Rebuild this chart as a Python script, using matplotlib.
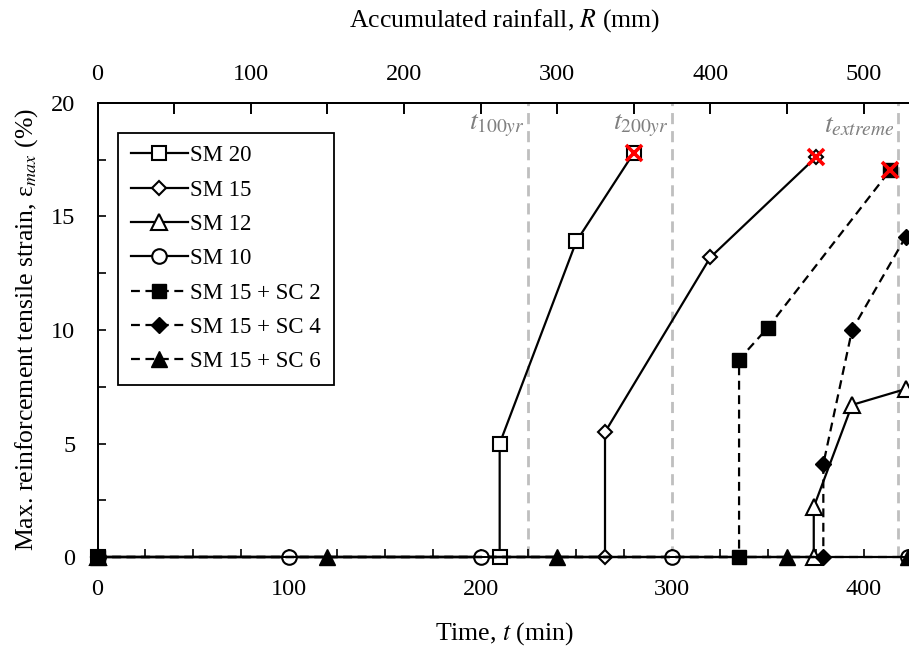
import matplotlib
matplotlib.use("Agg")
import matplotlib.pyplot as plt
from matplotlib.ticker import MultipleLocator

plt.rcParams['font.family'] = ['Liberation Serif', 'DejaVu Serif']
plt.rcParams['mathtext.fontset'] = 'stix'

# ---- data (time in min, strain in %) ----
sm20_t = [0, 210, 210, 250, 280]
sm20_e = [0, 0, 5.0, 13.9, 17.8]

sm15_t = [0, 265, 265, 320, 375]
sm15_e = [0, 0, 5.5, 13.2, 17.6]

sm12_t = [0, 374, 374, 394, 422]
sm12_e = [0, 0, 2.2, 6.7, 7.4]

sm10_t = [0, 100, 200, 300, 423]
sm10_e = [0, 0, 0, 0, 0]

sc2_t = [0, 335, 335, 350, 414]
sc2_e = [0, 0, 8.7, 10.1, 17.05]

sc4_t = [0, 379, 379, 394, 422]
sc4_e = [0, 0, 4.1, 10.0, 14.1]

sc6_t = [0, 120, 240, 360, 423]
sc6_e = [0, 0, 0, 0, 0]

# failure points (red crosses)
fail_t = [sm20_t[-1], sm15_t[-1], sc2_t[-1]]
fail_e = [sm20_e[-1], sm15_e[-1], sc2_e[-1]]

# return-period times
event_t = [225, 300, 418]
event_lbl = [r'$t_{100yr}$', r'$t_{200yr}$', r'$t_{extreme}$']

rain_rate = 1.25   # mm per min
t_max = 425.3

fig = plt.figure(figsize=(9.09, 6.48), dpi=100)
ax = fig.add_axes([97.5 / 909, 1 - 557 / 648, 814.5 / 909, 454 / 648])

dash = (0, (4, 2.5))
lw = 1.6

ax.plot(sm20_t, sm20_e, '-', color='black', lw=lw, marker='s', ms=10,
        mfc='white', mec='black', mew=1.5, label='SM 20', clip_on=False)
ax.plot(sm15_t, sm15_e, '-', color='black', lw=lw, marker='D', ms=7.5,
        mfc='white', mec='black', mew=1.5, label='SM 15', clip_on=False)
ax.plot(sm12_t, sm12_e, '-', color='black', lw=lw, marker='^', ms=11,
        mfc='white', mec='black', mew=1.5, label='SM 12', clip_on=False)
ax.plot(sm10_t, sm10_e, '-', color='black', lw=lw, marker='o', ms=10.5,
        mfc='white', mec='black', mew=1.5, label='SM 10', clip_on=False)
ax.plot(sc2_t, sc2_e, linestyle=dash, color='black', lw=lw, marker='s', ms=10,
        mfc='black', mec='black', label='SM 15 + SC 2', clip_on=False)
ax.plot(sc4_t, sc4_e, linestyle=dash, color='black', lw=lw, marker='D', ms=8,
        mfc='black', mec='black', label='SM 15 + SC 4', clip_on=False)
ax.plot(sc6_t, sc6_e, linestyle=dash, color='black', lw=lw, marker='^', ms=12,
        mfc='black', mec='black', label='SM 15 + SC 6', clip_on=False)

ax.plot(fail_t, fail_e, linestyle='none', marker='x', ms=12, mew=2.6,
        color='red', zorder=5)

for t, lbl in zip(event_t, event_lbl):
    ax.axvline(t, color='#bfbfbf', lw=2.0, linestyle=(0, (4, 2.5)), zorder=1)
    ax.text(t - 2, 19.0, lbl, ha='right', va='center', fontsize=20,
            color='#7f7f7f')

ax.set_xlim(0, t_max)
ax.set_ylim(0, 20)
ax.xaxis.set_major_locator(MultipleLocator(100))
ax.xaxis.set_minor_locator(MultipleLocator(25))
ax.yaxis.set_major_locator(MultipleLocator(5))
ax.yaxis.set_minor_locator(MultipleLocator(2.5))
ax.tick_params(which='both', direction='in', length=6, width=1.2,
               labelsize=17.5, top=False, right=False)
ax.tick_params(axis='x', which='both', pad=16)
ax.tick_params(axis='y', which='both', pad=16)
for s in ax.spines.values():
    s.set_linewidth(1.4)

ax.set_xlabel('Time, $t$ (min)', fontsize=18.5, labelpad=14)
ax.set_ylabel('Max. reinforcement tensile strain, ε$_{max}$ (%)',
              fontsize=18.5, labelpad=8)

# top axis: accumulated rainfall at constant intensity
top = ax.twiny()
top.set_xlim(0, t_max * rain_rate)
top.xaxis.set_major_locator(MultipleLocator(100))
top.xaxis.set_minor_locator(MultipleLocator(50))
top.tick_params(axis='x', which='major', direction='in', length=8, width=1.4,
                labelsize=17.5, pad=13, top=True, bottom=False)
top.tick_params(axis='x', which='minor', direction='in', length=8, width=1.4,
                top=True, bottom=False)
for s in top.spines.values():
    s.set_linewidth(1.4)
top.set_xlabel('Accumulated rainfall, $R$ (mm)', fontsize=18.5, labelpad=27)

leg = ax.legend(loc='upper left', bbox_to_anchor=(118 / 909, 1 - 132.7 / 648),
                bbox_transform=fig.transFigure, borderaxespad=0,
                fontsize=16.5, handlelength=2.5, handletextpad=0.1,
                labelspacing=0.58, fancybox=False, framealpha=1,
                edgecolor='black', borderpad=0.55)
leg.get_frame().set_linewidth(1.3)
leg.set_zorder(10)

fig.savefig('out.png', dpi=100)
